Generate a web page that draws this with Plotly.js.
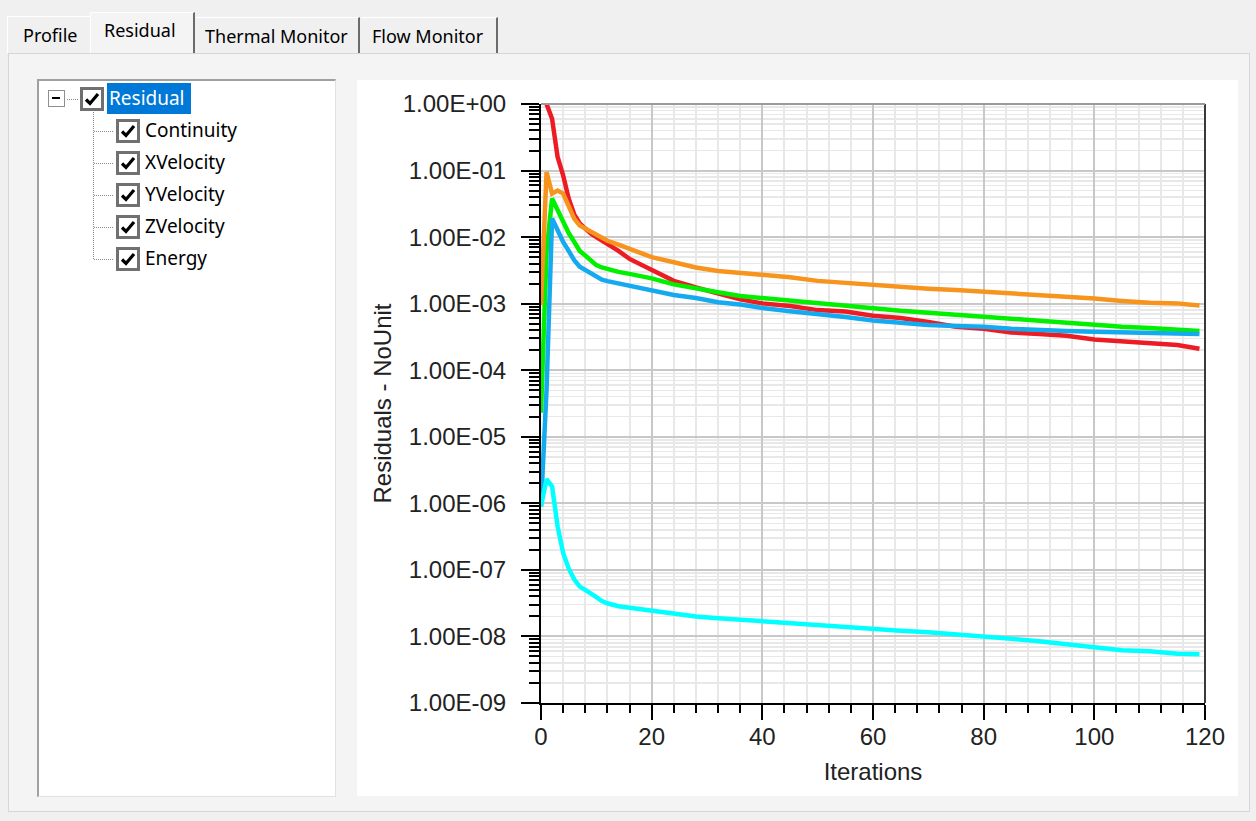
<!DOCTYPE html>
<html><head><meta charset="utf-8">
<script src="https://cdn.plot.ly/plotly-3.0.1.min.js"></script>
<style>
html,body{margin:0;padding:0;width:1256px;height:821px;overflow:hidden;background:#f0f0f0;font-family:"Noto Sans","Liberation Sans",sans-serif;}
.abs{position:absolute;box-sizing:border-box;}
.tab{position:absolute;box-sizing:border-box;font-size:18px;color:#000;white-space:nowrap;}
.page{left:8px;top:53px;width:1242px;height:759px;background:#f4f4f4;border:1px solid #d6d6d6;}
.tree{left:37px;top:79px;width:299px;height:718px;background:#fff;border-top:2px solid #a0a0a0;border-left:2px solid #a0a0a0;border-right:1px solid #e2e2e2;border-bottom:1px solid #e2e2e2;}
.chk{position:absolute;width:24px;height:24px;}
.lbl{position:absolute;font-size:19px;color:#000;line-height:26px;white-space:nowrap;}
.hdot{position:absolute;height:0;border-top:1px dotted #8a8a8a;}
.vdot{position:absolute;width:0;border-left:1px dotted #8a8a8a;}
#chart{position:absolute;left:357px;top:80px;width:881px;height:716px;background:#fff;}
</style>
</head><body>
<!-- tabs -->
<div class="tab" style="left:7px;top:16px;width:83px;height:37px;border-top:1px solid #fff;border-left:1px solid #fff;padding:6px 0 0 15px;">Profile</div>
<div class="tab" style="left:90px;top:12px;width:105px;height:42px;background:#f4f4f4;border-top:1px solid #fff;border-left:1px solid #fff;border-right:2px solid #6b6b6b;padding:5px 0 0 13px;">Residual</div>
<div class="tab" style="left:196px;top:17px;width:164px;height:36px;border-right:2px solid #6b6b6b;border-top:1px solid #fff;padding:6px 0 0 9px;">Thermal Monitor</div>
<div class="tab" style="left:361px;top:17px;width:137px;height:36px;border-right:2px solid #6b6b6b;border-top:1px solid #fff;padding:6px 0 0 11px;">Flow Monitor</div>
<div class="abs page"></div>
<div class="abs tree"></div>
<!-- tree contents -->
<div class="abs" style="left:48px;top:90px;width:17px;height:17px;border:1.5px solid #8f8f8f;background:#fff;"><div style="position:absolute;left:3px;top:6px;width:8px;height:2px;background:#000;"></div></div>
<div class="hdot" style="left:67px;top:99px;width:11px;"></div>
<svg class="chk" style="left:80px;top:87px;" viewBox="0 0 24 24"><rect x="1.5" y="1.5" width="21" height="21" fill="#fff" stroke="#707070" stroke-width="3"/><path d="M6 12.5 L10 16.5 L18 7" stroke="#000" stroke-width="3.2" fill="none"/></svg>
<div class="abs" style="left:107px;top:83px;width:84px;height:31px;background:#0078d7;"></div>
<div class="lbl" style="left:109px;top:85px;color:#fff;">Residual</div>
<div class="vdot" style="left:93px;top:112px;height:147px;"></div>
<div class="hdot" style="left:94px;top:131px;width:19px;"></div>
<div class="hdot" style="left:94px;top:163px;width:19px;"></div>
<div class="hdot" style="left:94px;top:195px;width:19px;"></div>
<div class="hdot" style="left:94px;top:227px;width:19px;"></div>
<div class="hdot" style="left:94px;top:259px;width:19px;"></div>
<svg class="chk" style="left:116px;top:119px;" viewBox="0 0 24 24"><rect x="1.5" y="1.5" width="21" height="21" fill="#fff" stroke="#707070" stroke-width="3"/><path d="M6 12.5 L10 16.5 L18 7" stroke="#000" stroke-width="3.2" fill="none"/></svg>
<svg class="chk" style="left:116px;top:151px;" viewBox="0 0 24 24"><rect x="1.5" y="1.5" width="21" height="21" fill="#fff" stroke="#707070" stroke-width="3"/><path d="M6 12.5 L10 16.5 L18 7" stroke="#000" stroke-width="3.2" fill="none"/></svg>
<svg class="chk" style="left:116px;top:183px;" viewBox="0 0 24 24"><rect x="1.5" y="1.5" width="21" height="21" fill="#fff" stroke="#707070" stroke-width="3"/><path d="M6 12.5 L10 16.5 L18 7" stroke="#000" stroke-width="3.2" fill="none"/></svg>
<svg class="chk" style="left:116px;top:215px;" viewBox="0 0 24 24"><rect x="1.5" y="1.5" width="21" height="21" fill="#fff" stroke="#707070" stroke-width="3"/><path d="M6 12.5 L10 16.5 L18 7" stroke="#000" stroke-width="3.2" fill="none"/></svg>
<svg class="chk" style="left:116px;top:247px;" viewBox="0 0 24 24"><rect x="1.5" y="1.5" width="21" height="21" fill="#fff" stroke="#707070" stroke-width="3"/><path d="M6 12.5 L10 16.5 L18 7" stroke="#000" stroke-width="3.2" fill="none"/></svg>
<div class="lbl" style="left:145px;top:117px;">Continuity</div>
<div class="lbl" style="left:145px;top:149px;">XVelocity</div>
<div class="lbl" style="left:145px;top:181px;">YVelocity</div>
<div class="lbl" style="left:145px;top:213px;">ZVelocity</div>
<div class="lbl" style="left:145px;top:245px;">Energy</div>

<div id="chart"></div>
<script>
// Data
const iterations = [0,1,2,3,4,5,6,7,8,9,10,11,12,14,16,18,20,24,28,32,36,40,45,50,55,60,65,70,75,80,85,90,95,100,105,110,115,119];
const continuity = [null,1.0,0.6,0.16,0.085,0.038,0.022,0.016,0.0131,0.0113,0.0100,0.0089,0.0080,0.0062,0.0047,0.0039,0.0031,0.0022,0.00175,0.00142,0.00116,0.00101,0.00092,0.00080,0.00076,0.00066,0.00061,0.00053,0.00045,0.00042,0.00037,0.00035,0.00033,0.00029,0.00027,0.00026,0.00024,0.00021];
const xVelocity = [2.3e-5,0.006,0.038,0.025,0.017,0.0115,0.0085,0.0062,0.0053,0.0044,0.0038,0.0035,0.0033,0.0030,0.0028,0.0026,0.0024,0.00195,0.00168,0.00148,0.0013,0.00121,0.00108,0.0010,0.0009,0.00083,0.00078,0.00073,0.00068,0.00063,0.00058,0.00055,0.00051,0.00048,0.00045,0.00043,0.00041,0.00039];
const yVelocity = [9e-7,5e-5,0.019,0.0125,0.0085,0.0062,0.0045,0.0036,0.0032,0.0028,0.0025,0.0023,0.00218,0.0020,0.00187,0.00172,0.0016,0.00135,0.00122,0.00105,0.00097,0.00086,0.00077,0.00071,0.00063,0.00056,0.00051,0.00048,0.00046,0.00045,0.00042,0.0004,0.00039,0.00038,0.00037,0.00036,0.00035,0.00035];
const zVelocity = [9e-7,2.3e-6,1.8e-6,4.5e-7,1.8e-7,1.05e-7,7.2e-8,5.6e-8,5.0e-8,4.5e-8,3.9e-8,3.4e-8,3.15e-8,2.85e-8,2.7e-8,2.6e-8,2.45e-8,2.2e-8,2.0e-8,1.88e-8,1.78e-8,1.68e-8,1.6e-8,1.5e-8,1.42e-8,1.3e-8,1.22e-8,1.16e-8,1.08e-8,1.02e-8,9.2e-9,8.5e-9,7.6e-9,6.8e-9,6.2e-9,6.0e-9,5.5e-9,5.4e-9];
const energy = [0.00095,0.095,0.045,0.05,0.045,0.028,0.019,0.015,0.0135,0.012,0.0108,0.0097,0.0088,0.0077,0.0067,0.0056,0.0050,0.0042,0.0035,0.0031,0.0029,0.0027,0.0025,0.0022,0.00205,0.0019,0.00178,0.00168,0.0016,0.00152,0.00143,0.00135,0.00127,0.0012,0.0011,0.00103,0.00101,0.00094];
const yTickVals = [1,1e-1,1e-2,1e-3,1e-4,1e-5,1e-6,1e-7,1e-8,1e-9];
const yTickText = ['1.00E+00','1.00E-01','1.00E-02','1.00E-03','1.00E-04','1.00E-05','1.00E-06','1.00E-07','1.00E-08','1.00E-09'];

const series = [
  {name:'Continuity', y:continuity, color:'#ed1c24'},
  {name:'XVelocity', y:xVelocity, color:'#00f000'},
  {name:'YVelocity', y:yVelocity, color:'#14aaf0'},
  {name:'ZVelocity', y:zVelocity, color:'#00ffff'},
  {name:'Energy', y:energy, color:'#f7941d'}
];
const traces = series.map(s => ({
  type:'scatter', mode:'lines', name:s.name, x:iterations, y:s.y,
  line:{color:s.color, width:4.5}, connectgaps:false, hoverinfo:'skip'
}));

const font = '"Liberation Sans", Arial, sans-serif';
const layout = {
  width:881, height:716,
  margin:{l:184, r:33, t:24, b:93, pad:0},
  paper_bgcolor:'#ffffff', plot_bgcolor:'#ffffff',
  showlegend:false,
  font:{family:font, size:24, color:'#222'},
  xaxis:{
    range:[0,120], tick0:0, dtick:20, ticks:'outside', ticklen:15, tickwidth:2, tickcolor:'#000',
    ticklabelstandoff:-4,
    showline:true, linecolor:'#000', linewidth:2, zeroline:false,
    showgrid:true, gridcolor:'#c8c8c8', gridwidth:2,
    minor:{dtick:4, ticks:'outside', ticklen:8, tickwidth:2, tickcolor:'#000', showgrid:true, gridcolor:'#e8e8e8', gridwidth:2},
    tickfont:{family:font, size:24, color:'#222'},
    title:{text:'Iterations', font:{family:font, size:24, color:'#222'}, standoff:14},
    automargin:false, fixedrange:true
  },
  yaxis:{
    type:'log', range:[-9,0], tickmode:'array', tickvals:yTickVals, ticktext:yTickText,
    ticks:'outside', ticklen:18, tickwidth:2, tickcolor:'#000', ticklabelstandoff:10,
    showline:true, linecolor:'#000', linewidth:2, zeroline:false,
    showgrid:true, gridcolor:'#c8c8c8', gridwidth:2,
    minor:{dtick:'D1', ticks:'outside', ticklen:10, tickwidth:2, tickcolor:'#000', showgrid:true, gridcolor:'#e8e8e8', gridwidth:1.5},
    tickfont:{family:font, size:24, color:'#222'},
    title:{text:'Residuals - NoUnit', font:{family:font, size:24, color:'#222'}, standoff:4},
    automargin:false, fixedrange:true
  },
  shapes:[
    {type:'line', xref:'paper', yref:'paper', x0:1, x1:1, y0:0, y1:1, line:{color:'#3a3a3a', width:2}},
    {type:'line', xref:'paper', yref:'paper', x0:0, x1:1, y0:1, y1:1, line:{color:'#9a9a9a', width:2}}
  ]
};
Plotly.newPlot('chart', traces, layout, {displayModeBar:false, staticPlot:true});
</script>
</body></html>
